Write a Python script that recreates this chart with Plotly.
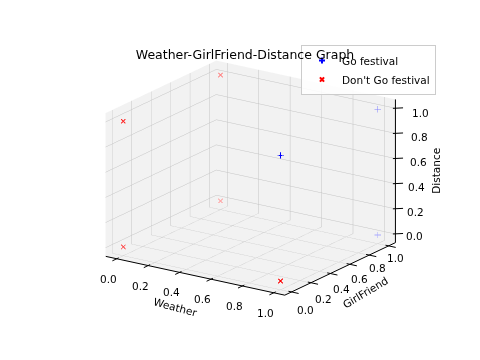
import plotly.graph_objects as go
import numpy as np

# ---- Data: binary cube corners ----
go_weather = [1, 1, 1]
go_girlfriend = [1, 1, 0]
go_distance = [1, 0, 1]

no_weather = [0, 0, 0, 0, 1]
no_girlfriend = [0, 0, 1, 1, 0]
no_distance = [0, 1, 1, 0, 0]

tick_vals = [0.0, 0.2, 0.4, 0.6, 0.8, 1.0]
tick_text = ["0.0", "0.2", "0.4", "0.6", "0.8", "1.0"]

W, H = 480, 360

# ---- view setup (mimic matplotlib default 3D view) ----
LO, HI = -0.07, 1.07
SC = np.array([1.0, 0.915, 0.70])          # relative box proportions
ZOOM = 1.215
aspect = dict(x=SC[0] * ZOOM, y=SC[1] * ZOOM, z=SC[2] * ZOOM)
elev = np.radians(18.7)
theta = np.radians(34.05)
R = 1.8
rvec = np.array([np.cos(theta), np.sin(theta), 0.0])
uvec = np.array([-np.sin(elev) * np.sin(theta), np.sin(elev) * np.cos(theta), np.cos(elev)])
eye0 = R * ZOOM * np.array([np.cos(elev) * np.sin(theta), -np.cos(elev) * np.cos(theta), np.sin(elev)])
eye = dict(x=eye0[0], y=eye0[1], z=eye0[2])

# screen projection used for the 2D overlays (axis lines, ticks, labels)
S_PX = 189.5
C_PX = np.array([250.6, 177.9])


def P(x, y, z):
    q = (np.array([x, y, z], dtype=float) - 0.5) * SC
    return C_PX + S_PX * np.array([q @ rvec, -(q @ uvec)])


def paper(pt):
    return pt[0] / W, 1 - pt[1] / H


def depth_colors(xs, ys, zs, rgb):
    e = eye0 / np.linalg.norm(eye0)
    pts = (np.array([xs, ys, zs], dtype=float).T - 0.5) * SC
    d = pts @ e
    span = d.max() - d.min()
    norm = (d.max() - d) / span if span > 0 else np.zeros_like(d)
    a = 1 - 0.7 * norm
    return [f"rgba({rgb[0]},{rgb[1]},{rgb[2]},{v:.2f})" for v in a]


fig = go.Figure()
gc = depth_colors(go_weather, go_girlfriend, go_distance, (0, 0, 255))
nc = depth_colors(no_weather, no_girlfriend, no_distance, (255, 0, 0))
fig.add_trace(go.Scatter3d(
    x=go_weather, y=go_girlfriend, z=go_distance, mode="markers",
    name="Go festival", hoverinfo="skip", showlegend=False,
    marker=dict(symbol="cross", size=3.5, color=gc, line=dict(width=0, color=gc)),
))
fig.add_trace(go.Scatter3d(
    x=no_weather, y=no_girlfriend, z=no_distance, mode="markers",
    name="Don't Go festival", hoverinfo="skip", showlegend=False,
    marker=dict(symbol="x", size=1.1, color=nc, line=dict(width=0, color=nc)),
))
# legend entries
fig.add_trace(go.Scatter3d(x=[None], y=[None], z=[None], mode="markers", name="Go festival",
                           marker=dict(symbol="cross", size=5, color="blue")))
fig.add_trace(go.Scatter3d(x=[None], y=[None], z=[None], mode="markers", name="Don't Go festival",
                           marker=dict(symbol="x", size=5, color="red")))

axis_common = dict(
    range=[LO, HI], tickvals=tick_vals, ticktext=tick_text,
    showbackground=True, backgroundcolor="rgb(242,242,242)",
    gridcolor="rgb(196,196,196)", gridwidth=1,
    showline=False, zeroline=False, ticks="", showticklabels=False,
    title=dict(text=""), showspikes=False, autorange=False,
)

# ---- 2D overlays: axis lines, ticks, tick labels, axis titles ----
shapes = []
def line(a, b):
    (x0, y0), (x1, y1) = paper(a), paper(b)
    shapes.append(dict(type="line", xref="paper", yref="paper", x0=x0, y0=y0, x1=x1, y1=y1,
                       line=dict(color="black", width=1), layer="above"))

line(P(LO, LO, LO), P(HI, LO, LO))
line(P(HI, LO, LO), P(HI, HI, LO))
line(P(HI, HI, LO), P(HI, HI, HI))

fs = 10.5
ann = []
def label(pt, text, angle=0, size=fs):
    px, py = paper(pt)
    ann.append(dict(x=px, y=py, xref="paper", yref="paper", text=text, showarrow=False,
                    textangle=angle, xanchor="center", yanchor="middle",
                    font=dict(size=size, family="DejaVu Sans", color="black")))

for v, s in zip(tick_vals, tick_text):
    line(P(v, LO + 0.02, LO), P(v, LO - 0.045, LO))
    line(P(HI - 0.02, v, LO), P(HI + 0.045, v, LO))
    line(P(HI - 0.01, HI - 0.01, v), P(HI + 0.03, HI + 0.03, v))
    label(P(v, LO, LO) + np.array([-8, 20]), s)
    label(P(HI, v, LO) + np.array([13.7 - 7 * v, 17.7 - 5.7 * v]), s)
    label(P(HI, HI, v) + np.array([19.2 + 5.7 * v, 2.5 + 1.9 * v]), s)

label(P(0.5, LO, LO) + np.array([-20, 31.7]), "Weather", 15)
label(P(HI, 0.5, LO) + np.array([25.7, 23.3]), "GirlFriend", -31)
label(P(HI, HI, 0.5) + np.array([41, -0.7]), "Distance", -90)

fig.update_layout(
    width=W, height=H,
    paper_bgcolor="white",
    hovermode=False,
    margin=dict(l=0, r=0, t=0, b=0),
    font=dict(family="DejaVu Sans", size=10.5, color="black"),
    title=dict(text="Weather-GirlFriend-Distance Graph", x=245 / W, xanchor="center",
               y=1 - 55 / H, yanchor="middle", font=dict(size=12.5, family="DejaVu Sans", color="black")),
    legend=dict(x=301 / W, y=1 - 45 / H, xanchor="left", yanchor="top",
                bgcolor="rgba(255,255,255,0.85)", bordercolor="rgb(204,204,204)", borderwidth=1,
                font=dict(size=10.5, family="DejaVu Sans", color="black"), tracegroupgap=0,
                itemwidth=30),
    shapes=shapes,
    annotations=ann,
    scene=dict(
        domain=dict(x=[0.044, 1.0], y=[0.012, 1.0]),
        aspectmode="manual", aspectratio=aspect,
        camera=dict(eye=eye, up=dict(x=0, y=0, z=1), center=dict(x=0, y=0, z=0),
                    projection=dict(type="orthographic")),
        xaxis=axis_common, yaxis=axis_common, zaxis=axis_common,
    ),
)

fig.write_html("out.html", config={"displayModeBar": False},
               post_script="document.body.style.margin='0';")
